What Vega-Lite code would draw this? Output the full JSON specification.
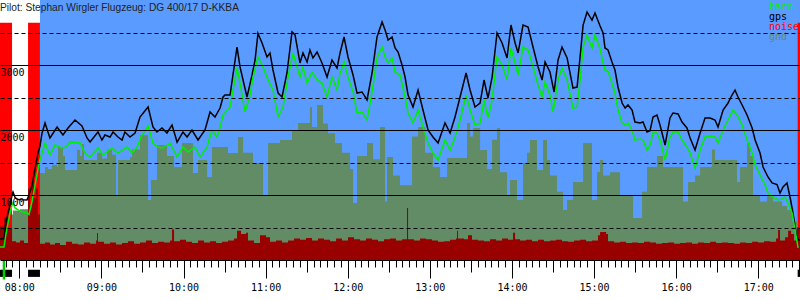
{
  "$schema": "https://vega.github.io/schema/vega-lite/v6.json",
  "width": 800,
  "height": 260,
  "autosize": {"type": "none"},
  "padding": {"left": 0, "top": 0, "right": 0, "bottom": 40},
  "background": "white",
  "config": {"view": {"stroke": null, "fill": "white"}},
  "title": {"text": "Pilot: Stephan Wirgler Flugzeug: DG 400/17 D-KKBA", "anchor": "start", "frame": "group", "orient": "top", "offset": -13, "font": "Liberation Sans", "fontSize": 10.2, "fontWeight": "normal", "color": "#222222"},
  "datasets": {
    "flight": [{"m": 495.1, "m2": 1050.5}],
    "engine": [{"m": 465.9, "m2": 474.7}, {"m": 486.4, "m2": 495.1}, {"m": 1048.8, "m2": 1050.5}],
    "events": [{"m": 468.8}],
    "gps": [
      {"m":465.9,"v":323},{"m":468.8,"v":330},{"m":470.3,"v":585},{"m":471.7,"v":720},{"m":473.2,"v":846},{"m":474.7,"v":1000},{"m":475.4,"v":1046},{"m":476.9,"v":960},{"m":479.1,"v":930},{"m":482.0,"v":925},{"m":485.6,"v":923},{"m":487.1,"v":1000},{"m":489.3,"v":1150},{"m":491.5,"v":1400},{"m":493.7,"v":1650},{"m":495.1,"v":1750},{"m":496.6,"v":1950},{"m":498.8,"v":2108},
      {"m":502.4,"v":1877},{"m":507.6,"v":2046},{"m":511.9,"v":1923},{"m":515.6,"v":2031},{"m":520.7,"v":2154},{"m":525.8,"v":2062},{"m":529.5,"v":1877},{"m":531.7,"v":1815},{"m":537.5,"v":1969},{"m":540.4,"v":1846},{"m":542.6,"v":1923},{"m":546.3,"v":1892},{"m":548.5,"v":1969},{"m":552.1,"v":1892},{"m":555.1,"v":1846},{"m":557.2,"v":1969},{"m":560.9,"v":1892},{"m":564.6,"v":1954},{"m":568.2,"v":2200},{"m":574.1,"v":2354},{"m":577.7,"v":2046},{"m":580.6,"v":1969},{"m":584.3,"v":2031},{"m":587.9,"v":1954},{"m":591.6,"v":2077},{"m":595.3,"v":1815},{"m":599.6,"v":1969},{"m":602.6,"v":1892},{"m":606.2,"v":2000},{"m":610.6,"v":1846},{"m":615.7,"v":2000},{"m":619.4,"v":2277},{"m":623.0,"v":2200},{"m":626.7,"v":2338},{"m":628.9,"v":2508},{"m":630.3,"v":2538},{"m":634.0,"v":2538},{"m":639.1,"v":3277},{"m":641.3,"v":2970},{"m":643.5,"v":2769},{"m":646.4,"v":2508},{"m":650.1,"v":2846},{"m":652.3,"v":3077},{"m":654.4,"v":3487},{"m":657.4,"v":3338},{"m":661.0,"v":3123},{"m":663.2,"v":3185},{"m":665.4,"v":2923},{"m":669.1,"v":2569},{"m":672.0,"v":2508},{"m":675.6,"v":2877},{"m":679.3,"v":3508},{"m":681.5,"v":3462},{"m":685.1,"v":3031},{"m":687.3,"v":3185},{"m":690.3,"v":3046},{"m":692.4,"v":3231},{"m":694.6,"v":3108},{"m":697.6,"v":3200},{"m":701.2,"v":3031},{"m":704.9,"v":2815},{"m":708.5,"v":3077},{"m":712.2,"v":2954},{"m":714.4,"v":3185},{"m":717.3,"v":3431},{"m":720.2,"v":3123},{"m":723.9,"v":2846},{"m":726.8,"v":2569},{"m":730.5,"v":2585},{"m":734.1,"v":2462},{"m":737.8,"v":2877},{"m":741.4,"v":3431},{"m":745.1,"v":3662},{"m":747.3,"v":3538},{"m":749.5,"v":3385},{"m":752.4,"v":3431},{"m":754.6,"v":3262},{"m":756.8,"v":3200},{"m":759.7,"v":3000},{"m":761.9,"v":2815},{"m":764.1,"v":2538},{"m":767.7,"v":2354},{"m":771.4,"v":2615},{"m":775.0,"v":2308},{"m":778.7,"v":2000},{"m":782.3,"v":1892},{"m":786.0,"v":1800},{"m":791.1,"v":2108},{"m":794.8,"v":1954},{"m":798.4,"v":2200},{"m":802.1,"v":2508},{"m":806.5,"v":2877},{"m":809.4,"v":2615},{"m":813.0,"v":2354},{"m":816.7,"v":2415},{"m":819.6,"v":2769},{"m":822.5,"v":2492},{"m":825.5,"v":2815},{"m":829.1,"v":3492},{"m":832.8,"v":3338},{"m":836.4,"v":3108},{"m":839.3,"v":3615},{"m":842.3,"v":3338},{"m":844.5,"v":3185},{"m":848.1,"v":3615},{"m":851.8,"v":3585},{"m":855.4,"v":3277},{"m":859.1,"v":2969},{"m":862.0,"v":2769},{"m":864.2,"v":3046},{"m":867.8,"v":2892},{"m":870.8,"v":2585},{"m":873.7,"v":3077},{"m":876.6,"v":3277},{"m":880.3,"v":3108},{"m":884.6,"v":2646},{"m":887.6,"v":2660},{"m":889.8,"v":3123},{"m":892.0,"v":3615},{"m":894.9,"v":3815},{"m":898.5,"v":3692},{"m":900.7,"v":3800},{"m":904.4,"v":3600},{"m":906.6,"v":3492},{"m":908.0,"v":3262},{"m":910.2,"v":3231},{"m":913.1,"v":3046},{"m":915.3,"v":2923},{"m":917.5,"v":2662},{"m":920.5,"v":2415},{"m":922.7,"v":2338},{"m":924.8,"v":2385},{"m":927.8,"v":2308},{"m":929.9,"v":2123},{"m":933.6,"v":2108},{"m":935.8,"v":2123},{"m":938.7,"v":1969},{"m":940.9,"v":1990},{"m":943.1,"v":2200},{"m":946.0,"v":2231},{"m":948.2,"v":2077},{"m":951.9,"v":1769},{"m":955.5,"v":2185},{"m":957.7,"v":2262},{"m":961.4,"v":2246},{"m":964.3,"v":2123},{"m":967.9,"v":2031},{"m":970.2,"v":1877},{"m":973.8,"v":1692},{"m":977.5,"v":1954},{"m":981.1,"v":2185},{"m":984.8,"v":2185},{"m":988.4,"v":2154},{"m":990.6,"v":2046},{"m":994.3,"v":2308},{"m":997.9,"v":2415},{"m":1000.8,"v":2538},{"m":1003.0,"v":2615},{"m":1005.2,"v":2508},{"m":1008.2,"v":2385},{"m":1011.8,"v":2231},{"m":1015.5,"v":2031},{"m":1017.7,"v":1846},{"m":1021.3,"v":1646},{"m":1023.5,"v":1431},{"m":1027.1,"v":1277},{"m":1030.1,"v":1185},{"m":1033.7,"v":1160},{"m":1035.9,"v":1031},{"m":1038.1,"v":1123},{"m":1041.0,"v":1185},{"m":1043.2,"v":969},{"m":1045.4,"v":723},{"m":1048.3,"v":330},{"m":1050.5,"v":300}
    ],
    "baro": [
      {"m":465.9,"v":200},{"m":468.8,"v":200},{"m":470.3,"v":400},{"m":471.7,"v":560},{"m":473.2,"v":720},{"m":474.7,"v":850},{"m":475.4,"v":877},{"m":476.9,"v":800},{"m":479.1,"v":770},{"m":482.0,"v":740},{"m":485.6,"v":723},{"m":487.1,"v":700},{"m":489.3,"v":900},{"m":491.5,"v":1150},{"m":493.7,"v":1400},{"m":495.1,"v":1538},{"m":498.8,"v":1800},
      {"m":502.4,"v":1615},{"m":506.1,"v":1769},{"m":511.2,"v":1723},{"m":514.1,"v":1738},{"m":517.1,"v":1815},{"m":524.4,"v":1800},{"m":528.0,"v":1646},{"m":531.7,"v":1585},{"m":537.5,"v":1723},{"m":541.2,"v":1615},{"m":547.8,"v":1723},{"m":552.1,"v":1646},{"m":558.7,"v":1738},{"m":562.4,"v":1646},{"m":566.0,"v":1738},{"m":569.7,"v":1923},{"m":574.1,"v":2062},{"m":577.7,"v":1800},{"m":581.4,"v":1738},{"m":585.0,"v":1723},{"m":590.1,"v":1800},{"m":595.3,"v":1585},{"m":599.6,"v":1738},{"m":603.3,"v":1662},{"m":608.4,"v":1738},{"m":612.1,"v":1585},{"m":617.2,"v":1738},{"m":620.8,"v":2000},{"m":624.5,"v":1892},{"m":626.7,"v":2046},{"m":628.9,"v":2231},{"m":634.0,"v":2354},{"m":639.1,"v":2954},{"m":641.3,"v":2723},{"m":644.9,"v":2277},{"m":648.6,"v":2538},{"m":650.8,"v":2815},{"m":654.4,"v":3123},{"m":658.1,"v":2969},{"m":661.8,"v":2769},{"m":665.4,"v":2615},{"m":669.1,"v":2200},{"m":672.7,"v":2354},{"m":676.4,"v":2815},{"m":680.0,"v":3185},{"m":685.1,"v":2815},{"m":687.3,"v":2969},{"m":690.3,"v":2723},{"m":693.9,"v":2892},{"m":697.6,"v":2769},{"m":701.2,"v":2723},{"m":704.9,"v":2508},{"m":708.5,"v":2815},{"m":712.2,"v":2615},{"m":714.4,"v":2877},{"m":717.3,"v":3046},{"m":720.2,"v":2815},{"m":723.9,"v":2585},{"m":726.8,"v":2262},{"m":730.5,"v":2277},{"m":734.1,"v":2154},{"m":737.8,"v":2585},{"m":741.4,"v":3108},{"m":745.1,"v":3277},{"m":747.3,"v":3123},{"m":749.5,"v":3031},{"m":752.4,"v":3108},{"m":754.6,"v":2892},{"m":758.2,"v":2846},{"m":761.9,"v":2508},{"m":764.1,"v":2262},{"m":767.7,"v":2108},{"m":771.4,"v":2308},{"m":775.0,"v":2046},{"m":778.7,"v":1800},{"m":782.3,"v":1646},{"m":786.0,"v":1538},{"m":791.1,"v":1846},{"m":794.8,"v":1692},{"m":798.4,"v":1892},{"m":802.1,"v":2154},{"m":806.5,"v":2538},{"m":809.4,"v":2308},{"m":813.0,"v":2077},{"m":816.7,"v":2100},{"m":819.6,"v":2462},{"m":822.5,"v":2185},{"m":825.5,"v":2462},{"m":829.1,"v":3123},{"m":832.8,"v":3000},{"m":836.4,"v":2769},{"m":839.3,"v":3262},{"m":842.3,"v":3031},{"m":844.5,"v":2846},{"m":848.1,"v":3277},{"m":851.8,"v":3231},{"m":855.4,"v":2969},{"m":859.1,"v":2692},{"m":862.0,"v":2508},{"m":864.2,"v":2738},{"m":867.8,"v":2538},{"m":870.0,"v":2277},{"m":873.7,"v":2769},{"m":876.6,"v":2954},{"m":880.3,"v":2769},{"m":884.6,"v":2338},{"m":887.6,"v":2350},{"m":889.8,"v":2769},{"m":892.0,"v":3277},{"m":894.9,"v":3462},{"m":898.5,"v":3262},{"m":900.7,"v":3462},{"m":904.4,"v":3250},{"m":906.6,"v":3030},{"m":908.0,"v":2923},{"m":910.2,"v":2900},{"m":913.1,"v":2723},{"m":915.3,"v":2569},{"m":917.5,"v":2308},{"m":920.5,"v":2108},{"m":922.7,"v":2077},{"m":924.8,"v":2108},{"m":927.8,"v":2000},{"m":929.9,"v":1846},{"m":933.6,"v":1862},{"m":935.8,"v":1846},{"m":938.7,"v":1692},{"m":940.9,"v":1769},{"m":943.1,"v":1954},{"m":946.0,"v":1954},{"m":948.2,"v":1846},{"m":951.9,"v":1538},{"m":955.5,"v":1892},{"m":957.7,"v":1969},{"m":961.4,"v":1969},{"m":964.3,"v":1846},{"m":967.9,"v":1738},{"m":970.2,"v":1646},{"m":973.8,"v":1415},{"m":977.5,"v":1692},{"m":981.1,"v":1892},{"m":984.8,"v":1908},{"m":988.4,"v":1892},{"m":990.6,"v":1800},{"m":994.3,"v":2000},{"m":997.9,"v":2154},{"m":1001.6,"v":2308},{"m":1004.5,"v":2231},{"m":1008.2,"v":2077},{"m":1011.8,"v":1846},{"m":1015.5,"v":1646},{"m":1017.7,"v":1462},{"m":1021.3,"v":1308},{"m":1025.0,"v":1154},{"m":1027.1,"v":1031},{"m":1030.8,"v":969},{"m":1034.5,"v":923},{"m":1037.4,"v":940},{"m":1039.6,"v":969},{"m":1041.8,"v":877},{"m":1044.7,"v":723},{"m":1046.9,"v":462},{"m":1049.1,"v":185}
    ],
    "gnd": [
      {"m":465.9,"v":700},{"m":475.4,"v":760},{"m":480.5,"v":780},{"m":486.4,"v":900},{"m":495.1,"v":1338},{"m":498.8,"v":1430},{"m":501.0,"v":1400},{"m":503.9,"v":1460},{"m":507.6,"v":1430},{"m":508.3,"v":1738},{"m":511.9,"v":1600},{"m":513.4,"v":1385},{"m":522.2,"v":1692},{"m":524.4,"v":1600},{"m":525.8,"v":1785},{"m":527.3,"v":1540},{"m":536.8,"v":1650},{"m":540.4,"v":1560},{"m":544.1,"v":1700},{"m":547.8,"v":1620},{"m":550.7,"v":1000},{"m":552.1,"v":1540},{"m":560.9,"v":1580},{"m":562.4,"v":1700},{"m":568.2,"v":1920},{"m":574.1,"v":923},{"m":576.2,"v":1231},{"m":580.6,"v":1770},{"m":587.9,"v":1600},{"m":593.1,"v":1431},{"m":598.9,"v":1800},{"m":606.9,"v":1338},{"m":610.6,"v":1540},{"m":617.2,"v":1277},{"m":620.8,"v":1738},{"m":632.5,"v":1646},{"m":639.8,"v":1892},{"m":643.5,"v":1650},{"m":650.8,"v":1492},{"m":658.1,"v":1000},{"m":661.8,"v":1800},{"m":670.5,"v":1846},{"m":679.3,"v":2000},{"m":683.7,"v":2108},{"m":692.4,"v":2354},{"m":693.9,"v":2046},{"m":697.6,"v":2385},{"m":701.9,"v":2100},{"m":705.6,"v":1950},{"m":710.7,"v":1800},{"m":715.8,"v":1650},{"m":721.7,"v":1400},{"m":723.9,"v":877},{"m":726.8,"v":1600},{"m":734.1,"v":1800},{"m":738.5,"v":1550},{"m":743.6,"v":2046},{"m":747.3,"v":900},{"m":748.7,"v":1585},{"m":753.1,"v":1300},{"m":758.2,"v":1150},{"m":767.0,"v":1900},{"m":771.4,"v":2046},{"m":776.5,"v":1650},{"m":782.3,"v":1430},{"m":787.5,"v":1277},{"m":792.6,"v":1570},{"m":807.2,"v":2108},{"m":809.4,"v":1900},{"m":811.6,"v":2031},{"m":816.7,"v":1692},{"m":821.8,"v":1400},{"m":825.5,"v":1850},{"m":829.1,"v":2031},{"m":831.3,"v":1350},{"m":836.4,"v":1000},{"m":838.6,"v":1230},{"m":843.7,"v":923},{"m":848.1,"v":1492},{"m":851.0,"v":1650},{"m":853.2,"v":1846},{"m":858.3,"v":1385},{"m":862.7,"v":1846},{"m":865.6,"v":1538},{"m":867.8,"v":1300},{"m":872.9,"v":1050},{"m":877.3,"v":770},{"m":880.3,"v":923},{"m":884.6,"v":1200},{"m":892.0,"v":1800},{"m":898.5,"v":923},{"m":902.2,"v":1354},{"m":904.4,"v":1538},{"m":906.6,"v":1300},{"m":911.7,"v":1350},{"m":919.0,"v":1000},{"m":928.5,"v":646},{"m":935.1,"v":1050},{"m":938.7,"v":1431},{"m":946.0,"v":1600},{"m":950.4,"v":1431},{"m":965.0,"v":900},{"m":968.7,"v":1200},{"m":973.8,"v":1300},{"m":977.5,"v":1431},{"m":986.2,"v":1700},{"m":988.4,"v":1538},{"m":1004.5,"v":1200},{"m":1006.7,"v":1431},{"m":1011.8,"v":1800},{"m":1014.0,"v":1600},{"m":1016.2,"v":1000},{"m":1021.3,"v":900},{"m":1026.4,"v":1000},{"m":1030.8,"v":900},{"m":1037.4,"v":830},{"m":1041.0,"v":770},{"m":1044.7,"v":600},{"m":1048.3,"v":500},{"m":1050.5,"v":500}
    ],
    "noise": [
      {"m":465.9,"v":520},{"m":468.8,"v":650},{"m":471.7,"v":480},{"m":474.7,"v":290},{"m":477.6,"v":270},{"m":480.5,"v":300},{"m":483.4,"v":260},{"m":486.4,"v":1100},{"m":487.8,"v":800},{"m":489.3,"v":1230},{"m":490.7,"v":950},{"m":492.2,"v":1100},{"m":493.7,"v":700},{"m":495.1,"v":250},{"m":498.8,"v":270},{"m":502.4,"v":240},{"m":506.1,"v":260},{"m":509.7,"v":230},{"m":514.1,"v":280},{"m":518.5,"v":250},{"m":522.9,"v":240},{"m":527.3,"v":270},{"m":531.7,"v":250},{"m":536.1,"v":300},{"m":536.8,"v":415},{"m":537.5,"v":280},{"m":541.9,"v":250},{"m":546.3,"v":270},{"m":550.7,"v":240},{"m":555.1,"v":260},{"m":559.4,"v":290},{"m":563.8,"v":250},{"m":568.2,"v":270},{"m":572.6,"v":300},{"m":577.0,"v":260},{"m":581.4,"v":280},{"m":585.7,"v":270},{"m":590.1,"v":300},{"m":591.6,"v":470},{"m":593.1,"v":290},{"m":597.4,"v":310},{"m":601.8,"v":280},{"m":606.2,"v":260},{"m":610.6,"v":300},{"m":615.0,"v":270},{"m":619.4,"v":290},{"m":623.8,"v":260},{"m":628.1,"v":280},{"m":632.5,"v":300},{"m":636.9,"v":330},{"m":639.1,"v":450},{"m":642.0,"v":400},{"m":645.7,"v":420},{"m":647.1,"v":300},{"m":651.5,"v":260},{"m":655.9,"v":380},{"m":660.3,"v":350},{"m":663.2,"v":280},{"m":667.6,"v":300},{"m":672.0,"v":270},{"m":676.4,"v":300},{"m":680.8,"v":330},{"m":685.1,"v":310},{"m":689.5,"v":340},{"m":693.9,"v":300},{"m":698.3,"v":330},{"m":702.7,"v":310},{"m":707.1,"v":290},{"m":711.5,"v":330},{"m":715.8,"v":300},{"m":720.2,"v":350},{"m":724.6,"v":320},{"m":729.0,"v":300},{"m":733.4,"v":330},{"m":737.8,"v":310},{"m":742.1,"v":290},{"m":746.5,"v":320},{"m":750.9,"v":330},{"m":755.3,"v":300},{"m":759.7,"v":320},{"m":763.3,"v":800},{"m":764.1,"v":320},{"m":768.4,"v":300},{"m":772.8,"v":330},{"m":777.2,"v":320},{"m":781.6,"v":300},{"m":786.0,"v":280},{"m":790.4,"v":290},{"m":794.8,"v":310},{"m":799.1,"v":330},{"m":799.9,"v":450},{"m":800.6,"v":330},{"m":805.0,"v":320},{"m":807.9,"v":380},{"m":810.8,"v":310},{"m":815.2,"v":300},{"m":819.6,"v":290},{"m":824.0,"v":320},{"m":828.4,"v":300},{"m":832.8,"v":330},{"m":837.1,"v":310},{"m":840.8,"v":420},{"m":842.3,"v":320},{"m":845.9,"v":300},{"m":850.3,"v":310},{"m":854.7,"v":290},{"m":859.1,"v":310},{"m":863.4,"v":290},{"m":867.8,"v":300},{"m":872.2,"v":310},{"m":876.6,"v":290},{"m":881.0,"v":280},{"m":885.4,"v":300},{"m":889.8,"v":310},{"m":894.2,"v":290},{"m":898.5,"v":300},{"m":902.9,"v":380},{"m":904.4,"v":430},{"m":908.8,"v":400},{"m":910.2,"v":290},{"m":914.6,"v":270},{"m":919.0,"v":280},{"m":923.4,"v":260},{"m":927.8,"v":270},{"m":932.2,"v":260},{"m":936.5,"v":280},{"m":940.9,"v":270},{"m":945.3,"v":250},{"m":949.7,"v":260},{"m":954.1,"v":270},{"m":958.5,"v":250},{"m":962.8,"v":260},{"m":967.2,"v":270},{"m":971.6,"v":250},{"m":976.0,"v":270},{"m":980.4,"v":260},{"m":984.8,"v":280},{"m":989.2,"v":260},{"m":993.5,"v":270},{"m":997.9,"v":260},{"m":1002.3,"v":250},{"m":1006.7,"v":270},{"m":1011.1,"v":260},{"m":1015.5,"v":280},{"m":1019.8,"v":270},{"m":1024.2,"v":290},{"m":1028.6,"v":280},{"m":1033.0,"v":330},{"m":1034.5,"v":460},{"m":1035.9,"v":300},{"m":1039.6,"v":350},{"m":1041.8,"v":450},{"m":1044.0,"v":400},{"m":1046.1,"v":300},{"m":1048.3,"v":500},{"m":1050.5,"v":500}
    ]
  },
  "layer": [
    {
      "data": {"name": "flight"},
      "mark": {"type": "rect", "color": "#5a9bff"},
      "encoding": {
        "x": {"field": "m", "type": "quantitative", "scale": {"domain": [465.9, 1050.5], "nice": false, "zero": false}},
        "x2": {"field": "m2"},
        "y": {"datum": 0, "type": "quantitative", "scale": {"domain": [0, 4000], "nice": false}},
        "y2": {"datum": 4000}
      }
    },
    {
      "data": {"name": "gnd"},
      "mark": {"type": "area", "interpolate": "step-after"},
      "encoding": {
        "x": {
          "field": "m",
          "type": "quantitative",
          "scale": {"domain": [465.9, 1050.5], "nice": false, "zero": false},
          "axis": {
            "title": null,
            "orient": "bottom",
            "tickCount": 117,
            "labelExpr": "datum.value % 60 === 0 ? (datum.value < 600 ? '0' : '') + (datum.value / 60) + ':00' : ''",
            "labelOverlap": false,
            "labelFlush": false,
            "labelFont": "DejaVu Sans Mono",
            "labelFontSize": 10,
            "labelColor": "black",
            "labelPadding": 4,
            "domainColor": "black",
            "tickColor": "black",
            "tickSize": {"condition": [{"test": "datum.value % 60 === 0", "value": 18}, {"test": "datum.value % 30 === 0", "value": 12}], "value": 7},
            "grid": false,
            "zindex": 1
          }
        },
        "y": {
          "field": "v",
          "type": "quantitative",
          "scale": {"domain": [0, 4000], "nice": false},
          "axis": {
            "title": null,
            "orient": "left",
            "values": [500, 1000, 1500, 2000, 2500, 3000, 3500],
            "format": "d",
            "labelExpr": "datum.value % 1000 === 0 ? datum.label : ''",
            "domain": false,
            "ticks": false,
            "tickSize": 0,
            "labelPadding": 0,
            "labelAlign": "left",
            "labelBaseline": "top",
            "labelOffset": 2,
            "labelFont": "DejaVu Sans Mono",
            "labelFontSize": 10,
            "labelColor": "black",
            "grid": true,
            "gridColor": "black",
            "gridOpacity": 1,
            "gridWidth": 1,
            "gridDash": {"condition": {"test": "datum.value % 1000 === 0", "value": []}, "value": [4, 3]},
            "zindex": 1
          }
        },
        "color": {
          "datum": "gnd",
          "scale": {"domain": ["baro", "gps", "noise", "gnd"], "range": ["#00ee00", "#000000", "#ff0000", "#628c66"]},
          "legend": {
            "orient": "none",
            "legendX": 759,
            "legendY": 2,
            "title": null,
            "padding": 0,
            "rowPadding": 0,
            "symbolSize": 0,
            "symbolOpacity": 0,
            "symbolStrokeWidth": 0,
            "labelOffset": 0,
            "labelLimit": 0,
            "labelFont": "DejaVu Sans Mono",
            "labelFontSize": 10,
            "encode": {"labels": {"update": {"fill": {"signal": "scale('color', datum.value)"}}}}
          }
        }
      }
    },
    {
      "data": {"name": "engine"},
      "mark": {"type": "rect"},
      "encoding": {
        "x": {"field": "m", "type": "quantitative", "scale": {"domain": [465.9, 1050.5], "nice": false, "zero": false}},
        "x2": {"field": "m2"},
        "y": {"datum": 0, "type": "quantitative", "scale": {"domain": [0, 4000], "nice": false}},
        "y2": {"datum": 3650},
        "color": {"datum": "noise"}
      }
    },
    {
      "data": {"name": "engine"},
      "mark": {"type": "rect", "color": "black"},
      "encoding": {
        "x": {"field": "m", "type": "quantitative", "scale": {"domain": [465.9, 1050.5], "nice": false, "zero": false}},
        "x2": {"field": "m2"},
        "y": {"datum": -150, "type": "quantitative", "scale": {"domain": [0, 4000], "nice": false}},
        "y2": {"datum": -260}
      }
    },
    {
      "data": {"name": "noise"},
      "mark": {"type": "area", "interpolate": "step-after", "color": "#990000"},
      "encoding": {
        "x": {"field": "m", "type": "quantitative", "scale": {"domain": [465.9, 1050.5], "nice": false, "zero": false}},
        "y": {"field": "v", "type": "quantitative", "scale": {"domain": [0, 4000], "nice": false}}
      }
    },
    {
      "data": {"name": "gps"},
      "mark": {"type": "line", "strokeWidth": 1.5},
      "encoding": {
        "x": {"field": "m", "type": "quantitative", "scale": {"domain": [465.9, 1050.5], "nice": false, "zero": false}},
        "y": {"field": "v", "type": "quantitative", "scale": {"domain": [0, 4000], "nice": false}},
        "color": {"datum": "gps"}
      }
    },
    {
      "data": {"name": "baro"},
      "mark": {"type": "line", "strokeWidth": 1.5},
      "encoding": {
        "x": {"field": "m", "type": "quantitative", "scale": {"domain": [465.9, 1050.5], "nice": false, "zero": false}},
        "y": {"field": "v", "type": "quantitative", "scale": {"domain": [0, 4000], "nice": false}},
        "color": {"datum": "baro"}
      }
    },
    {
      "data": {"name": "events"},
      "mark": {"type": "rule", "color": "#00cc00", "strokeWidth": 2.5},
      "encoding": {
        "x": {"field": "m", "type": "quantitative", "scale": {"domain": [465.9, 1050.5], "nice": false, "zero": false}},
        "y": {"datum": 0, "type": "quantitative", "scale": {"domain": [0, 4000], "nice": false}},
        "y2": {"datum": -300}
      }
    }
  ]
}
